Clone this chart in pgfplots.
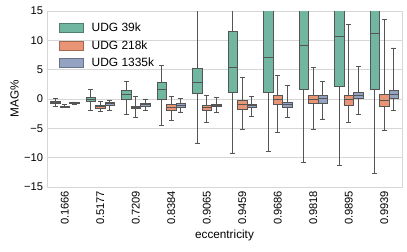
\documentclass[border=0pt]{standalone}
\usepackage{pgfplots}
\pgfplotsset{compat=1.18}
\usepgfplotslibrary{statistics}
\usepackage{fontspec}
\setmainfont{Liberation Sans}
\definecolor{cg}{HTML}{71B6A1}
\definecolor{co}{HTML}{E99575}
\definecolor{cb}{HTML}{95A3C3}
\definecolor{edge}{HTML}{555555}
\definecolor{gridc}{HTML}{D6D6D6}
\begin{document}
\fontsize{11}{13}\selectfont
\begin{tikzpicture}
\begin{axis}[
  scale only axis, width=355bp, height=176bp,
  xmin=-0.5, xmax=9.5, ymin=-15, ymax=15,
  xtick={0,...,9},
  xticklabels={0.1666,0.5177,0.7209,0.8384,0.9065,0.9459,0.9686,0.9818,0.9895,0.9939},
  xticklabel style={rotate=90, anchor=east},
  ytick={-15,-10,-5,0,5,10,15},
  yticklabels={−15,−10,−5,0,5,10,15},
  major tick length=0pt,
  ymajorgrids, grid style={gridc, line width=0.8bp},
  axis line style={gridc, line width=0.8bp},
  xlabel={eccentricity}, ylabel={MAG\%},
  xlabel style={yshift=2bp},
  ylabel style={yshift=-2bp},
  tick label style={font=\fontsize{11.2}{13}\selectfont},
  label style={font=\fontsize{11.8}{13}\selectfont},
  every axis plot/.append style={draw=edge, line width=0.8bp, solid},
  boxplot/draw direction=y,
  boxplot/box extend=0.267,
  boxplot/whisker extend=0.13,
  legend style={at={(0.025,0.955)}, anchor=north west, draw=none, fill=none,
    font=\fontsize{12}{14}\selectfont, row sep=3bp},
  legend cell align=left,
  legend image code/.code={\draw[#1] (0bp,-4.5bp) rectangle (24bp,4.5bp); \path (30bp,0bp);},
]
\addlegendimage{fill=cg, draw=cg!70!black, line width=0.6bp}
\addlegendentry{UDG 39k}
\addlegendimage{fill=co, draw=co!70!black, line width=0.6bp}
\addlegendentry{UDG 218k}
\addlegendimage{fill=cb, draw=cb!70!black, line width=0.6bp}
\addlegendentry{UDG 1335k}
% green
\addplot[fill=cg, boxplot prepared={draw position=-0.267, lower whisker=-1.2, lower quartile=-0.8, median=-0.6, upper quartile=-0.45, upper whisker=0.1}] coordinates {};
\addplot[fill=cg, boxplot prepared={draw position=0.733, lower whisker=-1.9, lower quartile=-0.45, median=-0.05, upper quartile=0.3, upper whisker=1.6}] coordinates {};
\addplot[fill=cg, boxplot prepared={draw position=1.733, lower whisker=-2.6, lower quartile=-0.05, median=0.8, upper quartile=1.5, upper whisker=3.0}] coordinates {};
\addplot[fill=cg, boxplot prepared={draw position=2.733, lower whisker=-4.5, lower quartile=-0.05, median=1.64, upper quartile=2.76, upper whisker=5.7}] coordinates {};
\addplot[fill=cg, boxplot prepared={draw position=3.733, lower whisker=-7.5, lower quartile=0.9, median=2.9, upper quartile=5.2, upper whisker=25}] coordinates {};
\addplot[fill=cg, boxplot prepared={draw position=4.733, lower whisker=-9.2, lower quartile=1.1, median=5.4, upper quartile=11.6, upper whisker=30}] coordinates {};
\addplot[fill=cg, boxplot prepared={draw position=5.733, lower whisker=-9.0, lower quartile=1.07, median=7.06, upper quartile=20, upper whisker=40}] coordinates {};
\addplot[fill=cg, boxplot prepared={draw position=6.733, lower whisker=-10.8, lower quartile=1.64, median=9.1, upper quartile=20, upper whisker=40}] coordinates {};
\addplot[fill=cg, boxplot prepared={draw position=7.733, lower whisker=-11.4, lower quartile=2.1, median=10.7, upper quartile=20, upper whisker=40}] coordinates {};
\addplot[fill=cg, boxplot prepared={draw position=8.733, lower whisker=-12.7, lower quartile=1.64, median=11.2, upper quartile=20, upper whisker=40}] coordinates {};
% orange
\addplot[fill=co, boxplot prepared={draw position=0, lower whisker=-1.5, lower quartile=-1.4, median=-1.3, upper quartile=-1.2, upper whisker=-1.0}] coordinates {};
\addplot[fill=co, boxplot prepared={draw position=1, lower whisker=-2.15, lower quartile=-1.58, median=-1.3, upper quartile=-1.07, upper whisker=-0.45}] coordinates {};
\addplot[fill=co, boxplot prepared={draw position=2, lower whisker=-3.2, lower quartile=-1.64, median=-1.4, upper quartile=-1.2, upper whisker=0.4}] coordinates {};
\addplot[fill=co, boxplot prepared={draw position=3, lower whisker=-3.6, lower quartile=-1.86, median=-1.4, upper quartile=-1.0, upper whisker=0.4}] coordinates {};
\addplot[fill=co, boxplot prepared={draw position=4, lower whisker=-3.95, lower quartile=-1.86, median=-1.45, upper quartile=-1.07, upper whisker=0.6}] coordinates {};
\addplot[fill=co, boxplot prepared={draw position=5, lower whisker=-5.25, lower quartile=-1.75, median=-0.96, upper quartile=-0.17, upper whisker=3.7}] coordinates {};
\addplot[fill=co, boxplot prepared={draw position=6, lower whisker=-5.65, lower quartile=-1.0, median=-0.05, upper quartile=0.62, upper whisker=4.0}] coordinates {};
\addplot[fill=co, boxplot prepared={draw position=7, lower whisker=-5.25, lower quartile=-0.8, median=0, upper quartile=0.62, upper whisker=5.4}] coordinates {};
\addplot[fill=co, boxplot prepared={draw position=8, lower whisker=-4.0, lower quartile=-1.07, median=0, upper quartile=0.62, upper whisker=12.7}] coordinates {};
\addplot[fill=co, boxplot prepared={draw position=9, lower whisker=-5.4, lower quartile=-1.3, median=-0.2, upper quartile=0.85, upper whisker=13.6}] coordinates {};
% blue
\addplot[fill=cb, boxplot prepared={draw position=0.267, lower whisker=-0.9, lower quartile=-0.8, median=-0.7, upper quartile=-0.6, upper whisker=-0.5}] coordinates {};
\addplot[fill=cb, boxplot prepared={draw position=1.267, lower whisker=-1.9, lower quartile=-1.07, median=-0.8, upper quartile=-0.5, upper whisker=-0.17}] coordinates {};
\addplot[fill=cb, boxplot prepared={draw position=2.267, lower whisker=-1.9, lower quartile=-1.2, median=-0.9, upper quartile=-0.7, upper whisker=0}] coordinates {};
\addplot[fill=cb, boxplot prepared={draw position=3.267, lower whisker=-2.2, lower quartile=-1.36, median=-1.05, upper quartile=-0.8, upper whisker=0.05}] coordinates {};
\addplot[fill=cb, boxplot prepared={draw position=4.267, lower whisker=-2.35, lower quartile=-1.3, median=-1.05, upper quartile=-0.85, upper whisker=0.3}] coordinates {};
\addplot[fill=cb, boxplot prepared={draw position=5.267, lower whisker=-2.9, lower quartile=-1.4, median=-1.1, upper quartile=-0.85, upper whisker=0.4}] coordinates {};
\addplot[fill=cb, boxplot prepared={draw position=6.267, lower whisker=-3.1, lower quartile=-1.5, median=-0.96, upper quartile=-0.5, upper whisker=2.3}] coordinates {};
\addplot[fill=cb, boxplot prepared={draw position=7.267, lower whisker=-3.4, lower quartile=-0.68, median=0.17, upper quartile=0.62, upper whisker=3.05}] coordinates {};
\addplot[fill=cb, boxplot prepared={draw position=8.267, lower whisker=-2.7, lower quartile=0.05, median=0.56, upper quartile=1.07, upper whisker=5.5}] coordinates {};
\addplot[fill=cb, boxplot prepared={draw position=9.267, lower whisker=-2.0, lower quartile=0.17, median=0.8, upper quartile=1.47, upper whisker=8.7}] coordinates {};
\end{axis}
\pgfresetboundingbox
\path (current axis.south west) ++(-47bp,-65bp) rectangle ([shift={(5bp,11bp)}]current axis.north east);
\end{tikzpicture}
\end{document}
